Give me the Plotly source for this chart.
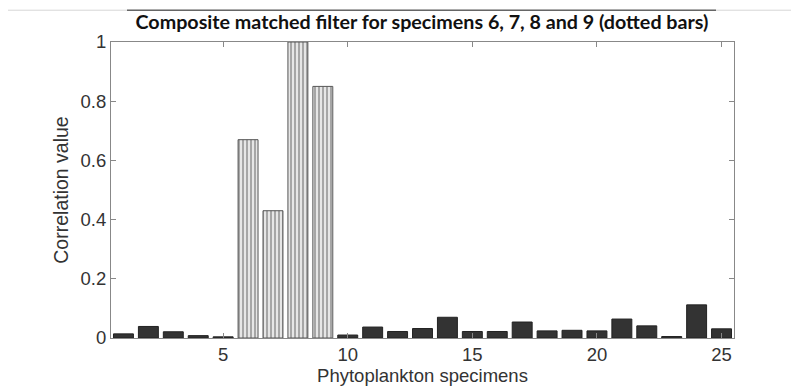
import plotly.graph_objects as go

specimens = list(range(1, 26))
values = [0.014, 0.039, 0.021, 0.008, 0.004, 0.67, 0.43, 1.0, 0.85, 0.010,
          0.037, 0.022, 0.032, 0.070, 0.022, 0.022, 0.054, 0.024, 0.026, 0.024,
          0.064, 0.041, 0.005, 0.112, 0.031]
dotted = [6, 7, 8, 9]
x_ticks = [5, 10, 15, 20, 25]
y_ticks = [0, 0.2, 0.4, 0.6, 0.8, 1]
y_ticklabels = ["0", "0.2", "0.4", "0.6", "0.8", "1"]

solid_x = [s for s in specimens if s not in dotted]
solid_y = [v for s, v in zip(specimens, values) if s not in dotted]
dot_x = [s for s in specimens if s in dotted]
dot_y = [v for s, v in zip(specimens, values) if s in dotted]

# the page body adds an 8px offset; compensate
OFF = 8
W, H = 799 - OFF, 392 - OFF
L, T = 111 - OFF, 42 - OFF
PW, PH = 734 - 111, 340 - 42
R, B = W - L - PW, H - T - PH

fig = go.Figure()
fig.add_trace(go.Bar(x=solid_x, y=solid_y, width=0.8,
                     marker=dict(color="#333333", line=dict(color="#222222", width=1))))
fig.add_trace(go.Bar(x=dot_x, y=dot_y, width=0.8,
                     marker=dict(color="#c0c0c0",
                                 pattern=dict(shape="|", fgcolor="#e6e6e6", bgcolor="#a6a6a6",
                                              size=4, solidity=0.5, fillmode="replace"),
                                 line=dict(color="#555555", width=1))))

fig.update_layout(
    width=W, height=H,
    margin=dict(l=L, r=R, t=T, b=B),
    paper_bgcolor="white", plot_bgcolor="white",
    showlegend=False, barmode="overlay",
    title=dict(text="<b>Composite matched filter for specimens 6, 7, 8 and 9 (dotted bars)</b>",
               x=(422 - OFF) / W, xanchor="center",
               y=1 - (22 - OFF) / H, yanchor="middle", yref="container",
               font=dict(family="Lato", size=19.7, color="#111111")),
    font=dict(family="Liberation Sans", color="#333333"),
)
fig.update_xaxes(range=[0.5, 25.5], tickvals=x_ticks, ticks="inside", ticklen=5,
                 tickcolor="#888888", showline=True, linecolor="#888888", linewidth=1,
                 mirror="ticks", showgrid=False, zeroline=False,
                 tickfont=dict(size=18.5, color="#333333"),
                 title=dict(text="Phytoplankton specimens", font=dict(size=18.5, color="#333333"), standoff=2))
fig.update_yaxes(range=[0, 1], tickvals=y_ticks, ticktext=y_ticklabels, ticks="inside", ticklen=5,
                 tickcolor="#888888", showline=True, linecolor="#888888", linewidth=1,
                 mirror="ticks", showgrid=False, zeroline=False,
                 tickfont=dict(size=18.5, color="#333333"),
                 title=dict(text="Correlation value", font=dict(size=19.5, color="#333333"), standoff=6))

line_y = 1 + (42 - 10) / PH
fig.add_shape(type="line", xref="paper", yref="paper",
              x0=-L / PW, x1=(W - L) / PW, y0=line_y, y1=line_y,
              line=dict(color="#d6d6d6", width=1))
fig.add_shape(type="line", xref="paper", yref="paper",
              x0=(127 - 111) / PW, x1=(716 - 111) / PW, y0=line_y, y1=line_y,
              line=dict(color="#666666", width=1.5))

fig.write_html("out.html")
